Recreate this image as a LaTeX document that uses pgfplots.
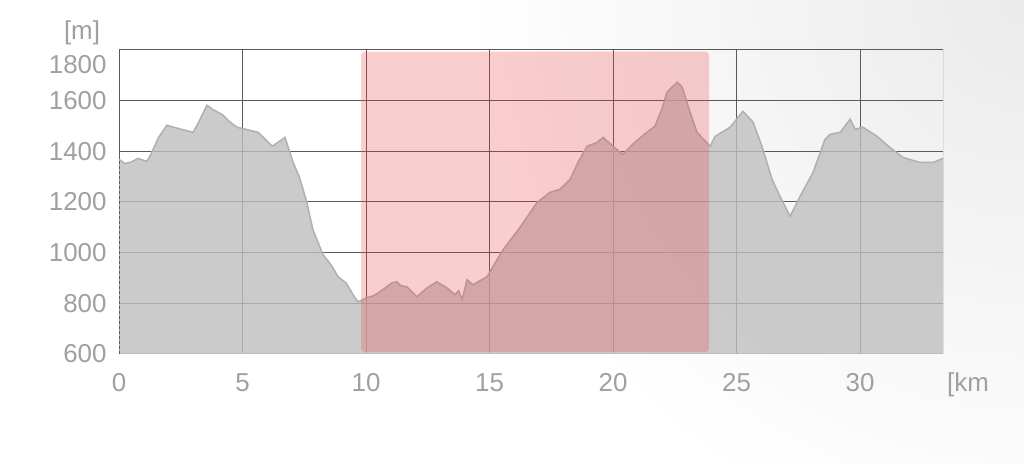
\documentclass[border=0pt]{standalone}
\usepackage{pgfplots}
\pgfplotsset{compat=1.18}
\usepackage{pgfplotstable}
\usepackage{fontspec}
\setmainfont{Liberation Sans}

\definecolor{gridc}{HTML}{5A5A5A}
\definecolor{labelc}{HTML}{A0A0A0}
\definecolor{fillc}{HTML}{BFBFBF}
\definecolor{edgec}{HTML}{B0B0B0}
\definecolor{basec}{HTML}{BDBDBD}
\definecolor{hlc}{RGB}{235,60,60}

% elevation profile, km vs m
\pgfplotstableread{
km     m
0.00   1368
0.25   1352
0.50   1358
0.77   1372
1.13   1360
1.30   1390
1.60   1455
1.94   1503
2.40   1490
3.00   1475
3.20   1510
3.56   1582
3.80   1565
4.17   1546
4.50   1515
4.78   1495
5.00   1490
5.63   1475
5.90   1450
6.20   1420
6.50   1440
6.72   1455
7.05   1356
7.30   1300
7.60   1200
7.85   1091
8.26   992
8.60   950
8.87   905
9.20   880
9.50   830
9.68   806
10.04  822
10.30  830
10.57  846
11.05  881
11.25  885
11.40  870
11.66  865
12.06  826
12.47  861
12.87  885
13.28  861
13.60  834
13.75  850
13.89  814
14.09  893
14.33  873
14.90  905
15.55  1012
16.23  1099
16.92  1198
17.45  1238
17.85  1250
18.26  1289
18.60  1360
18.95  1420
19.35  1435
19.60  1455
20.00  1420
20.40  1388
20.80  1428
21.30  1470
21.70  1499
21.95  1560
22.19  1634
22.60  1673
22.80  1653
23.10  1560
23.40  1475
23.93  1420
24.13  1459
24.74  1495
25.26  1558
25.67  1515
26.03  1420
26.44  1289
26.76  1222
27.17  1143
27.57  1222
28.10  1317
28.58  1447
28.79  1467
29.20  1475
29.60  1527
29.80  1487
30.12  1495
30.69  1459
31.20  1416
31.74  1376
32.43  1356
32.96  1356
33.36  1372
}\profile

\begin{document}
\begin{tikzpicture}[x=1bp,y=1bp]
\useasboundingbox (0,0) rectangle (1024,464);
\fill[white] (0,0) rectangle (1024,464);
\shade[inner color=black!8, outer color=white] (1024,464) circle (560);
\begin{axis}[
    at={(119bp,110bp)}, anchor=south west,
    scale only axis, width=824bp, height=304bp,
    xmin=0, xmax=33.36, ymin=600, ymax=1800,
    xtick={0,5,...,30}, ytick={600,800,...,1600},
    extra y ticks={1800},
    extra y tick style={grid=none, yticklabel style={yshift=-15bp}},
    grid=major, major grid style={draw=gridc, line width=1bp},
    major tick length=0pt,
    axis line style={draw=none},
    /pgf/number format/assume math mode=true,
    /pgf/number format/set thousands separator={},
    tick label style={font=\fontsize{26}{26}\selectfont, text=labelc},
    xticklabel style={yshift=-16bp},
    yticklabel style={xshift=-9bp},
]
\draw[gridc, line width=1bp] (rel axis cs:0,1) -- (rel axis cs:1,1) -- (rel axis cs:1,0);
\addplot[draw=none, fill=fillc, fill opacity=0.8] table[x=km, y=m] {\profile} \closedcycle;
\addplot[draw=edgec, line width=1.5bp] table[x=km, y=m] {\profile};
\draw[basec, line width=2bp] (rel axis cs:0,0) -- (rel axis cs:1,0);
\draw[gridc, line width=1bp, dash pattern=on 3bp off 2bp] (rel axis cs:0,0) -- (rel axis cs:0,1);
\addplot[draw=none, fill=hlc, fill opacity=0.25, rounded corners=4bp]
    coordinates {(9.80,608) (23.89,608) (23.89,1794) (9.80,1794)} -- cycle;
\end{axis}
\node[text=labelc, font=\fontsize{26}{26}\selectfont] at (82,431) {[m]};
\node[text=labelc, font=\fontsize{26}{26}\selectfont, anchor=west, inner sep=0pt] at (947,79) {[km};
\end{tikzpicture}
\end{document}
